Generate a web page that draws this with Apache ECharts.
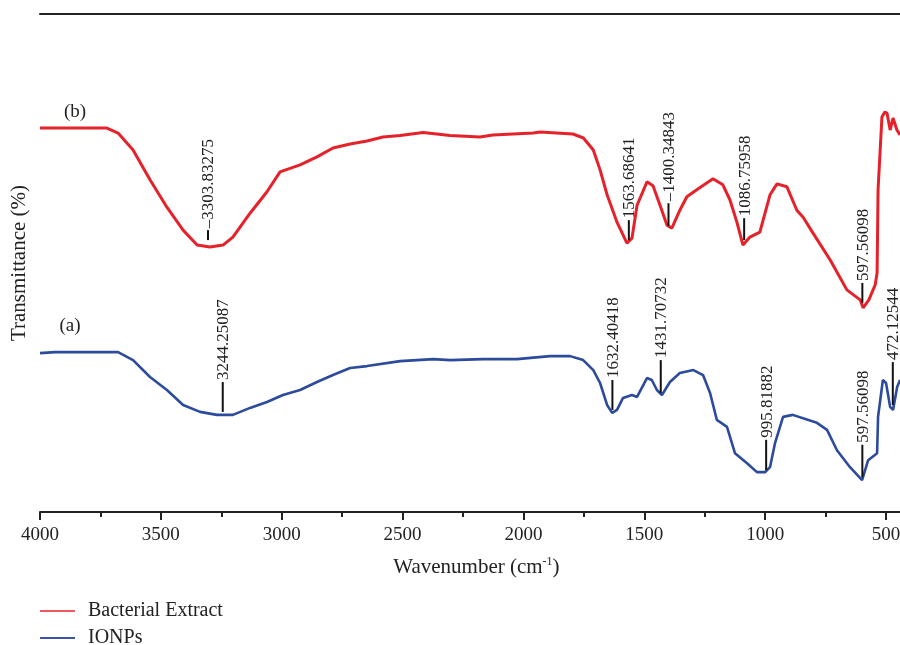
<!DOCTYPE html>
<html>
<head>
<meta charset="utf-8">
<script src="https://cdn.jsdelivr.net/npm/echarts@6/dist/echarts.min.js"></script>
<style>
html,body{margin:0;padding:0;background:#fff;}
#chart{width:900px;height:645px;}
</style>
</head>
<body>
<div id="chart"></div>
<script>
// Wavenumber (cm-1) and transmittance (arbitrary offset units)
const bactWn = [4000,3723,3677,3615,3545,3475,3408,3350,3297,3243,3202,3131,3061,3007,2924,2854,2788,2717,2647,2581,2510,2415,2303,2180,2126,1960,1931,1795,1752,1711,1683,1654,1613,1572,1551,1530,1489,1464,1435,1406,1386,1353,1324,1283,1216,1175,1146,1117,1092,1063,1022,980,951,910,869,843,802,731,662,607,595,571,545,537,533,517,505,496,483,471,455,442];
const bactT  = [77.1,77.1,76.1,72.7,66.7,61.2,56.6,53.6,53.2,53.6,55.2,60.0,64.3,68.3,69.7,71.3,73.1,73.9,74.5,75.3,75.6,76.2,75.6,75.3,75.7,76.1,76.3,75.9,75.1,72.7,68.7,63.7,58.2,54.0,55.0,61.6,66.3,65.5,61.6,57.6,57.0,60.6,63.3,64.7,66.9,65.7,62.7,58.2,53.6,55.2,56.2,63.7,65.9,65.3,60.6,59.2,56.0,50.6,44.6,42.6,41.0,42.6,45.6,48.0,64.7,79.3,80.3,80.1,76.7,79.1,76.7,75.7];

const ionWn = [4000,3938,3677,3615,3545,3475,3408,3338,3268,3202,3131,3061,2995,2924,2854,2788,2717,2647,2510,2373,2303,2167,2027,1890,1807,1753,1711,1683,1654,1633,1613,1588,1551,1530,1489,1469,1448,1427,1394,1353,1297,1257,1228,1200,1158,1125,1075,1034,1000,980,959,926,886,786,744,703,649,599,574,537,533,513,500,483,471,454,442];
const ionT  = [31.9,32.1,32.1,30.5,27.1,24.5,21.5,20.1,19.5,19.5,20.9,22.1,23.5,24.5,26.1,27.5,28.9,29.3,30.3,30.7,30.5,30.7,30.7,31.3,31.3,30.5,28.5,25.9,21.5,19.9,20.5,22.9,23.5,23.1,26.9,26.5,24.5,23.5,26.1,27.9,28.5,27.5,23.9,18.5,17.1,11.8,9.8,8.0,8.0,9.0,13.9,19.1,19.5,17.9,16.5,12.4,9.0,6.4,10.4,11.8,19.1,26.5,25.9,21.1,20.5,25.1,26.5];

// Peak annotations: position, tick top, tick bottom, label
const peakWn     = [3305, 1564, 1400, 1087, 598, 3244, 1632, 1432, 996, 598, 472];
const peakTop    = [56.6, 58.6, 62.0, 59.0, 46.0, 26.1, 26.5, 30.5, 14.5, 13.5, 30.1];
const peakBottom = [54.6, 54.6, 57.4, 54.6, 42.0, 20.1, 20.5, 23.9, 8.4, 7.0, 21.5];
const peakLabels = ['\u20133303.83275','1563.68641','\u20131400.34843','1086.75958','597.56098',
                    '3244.25087','1632.40418','1431.70732','995.81882','597.56098','472.12544'];

// Curve tags
const tagWn = [3855, 3876];
const tagT = [80.3, 37.3];
const tagText = ['(b)', '(a)'];

const xTicks = [4000,3500,3000,2500,2000,1500,1000,500];

const seriesNames = ['Bacterial Extract', 'IONPs'];
const legendColors = ['#ee5a5f', '#3b55a6'];
const FONT = 'Liberation Serif';

const chart = echarts.init(document.getElementById('chart'), null, {renderer:'canvas'});

const peakData = peakWn.map((w,i)=>[w, peakTop[i], peakBottom[i], i]);
const tagData = tagWn.map((w,i)=>[w, tagT[i], i]);

function makeLegend(i, top){
  return {
    left: 40, top: top, padding: 0,
    itemWidth: 35, itemHeight: 2, icon: 'rect',
    textStyle: {fontFamily: FONT, fontSize: 20, color: '#222', padding:[0,0,0,8], lineHeight: 20},
    data: [{name: seriesNames[i], itemStyle: {color: legendColors[i]}}]
  };
}

const option = {
  animation: false,
  backgroundColor: '#fff',
  grid: {left: 40, top: 14, right: -106.9, bottom: 133, containLabel: false, outerBoundsMode: 'none'},
  legend: [makeLegend(0, 601), makeLegend(1, 628)],
  xAxis: [{
    type: 'value', inverse: true, min: 0, max: 4000, interval: 500,
    name: 'Wavenumber (cm{sup|-1})',
    nameLocation: 'middle', nameGap: 44,
    nameTextStyle: {fontFamily: FONT, fontSize: 21, color: '#222', lineHeight: 22, padding: [0, 94, 0, 0],
      rich: {sup: {fontFamily: FONT, fontSize: 12, color: '#222', verticalAlign: 'top', lineHeight: 14}}},
    axisLine: {show: true, lineStyle: {color: '#222', width: 2}},
    axisTick: {show: true, length: 8, lineStyle: {color: '#222', width: 2}},
    minorTick: {show: true, splitNumber: 2, length: 5, lineStyle: {color: '#222', width: 2}},
    splitLine: {show: false},
    axisLabel: {fontFamily: FONT, fontSize: 19, color: '#222', margin: 14,
      formatter: v => xTicks.indexOf(v) >= 0 ? String(v) : ''}
  }, {
    type: 'value', inverse: true, min: 0, max: 4000, position: 'top',
    axisLine: {show: true, onZero: false, lineStyle: {color: '#222', width: 2}},
    axisTick: {show: false}, axisLabel: {show: false}, splitLine: {show: false}
  }],
  yAxis: {
    type: 'value', min: 0, max: 100,
    name: 'Transmittance (%)', nameLocation: 'middle', nameGap: 10,
    nameTextStyle: {fontFamily: FONT, fontSize: 21, color: '#222'},
    axisLine: {show: true, lineStyle: {color: '#222', width: 2}},
    axisTick: {show: false}, axisLabel: {show: false}, splitLine: {show: false}
  },
  series: [
    {
      name: seriesNames[0], type: 'line', showSymbol: false, symbol: 'none',
      data: bactWn.map((w,i)=>[w, bactT[i]]),
      lineStyle: {color: '#e5222a', width: 3}, itemStyle: {color: '#e5222a'}, z: 3
    },
    {
      name: seriesNames[1], type: 'line', showSymbol: false, symbol: 'none',
      data: ionWn.map((w,i)=>[w, ionT[i]]),
      lineStyle: {color: '#2c4b9c', width: 2.6}, itemStyle: {color: '#2c4b9c'}, z: 3
    },
    {
      type: 'custom', name: 'peaks', data: peakData, z: 5, silent: true,
      renderItem: function(params, api){
        const p1 = api.coord([api.value(0), api.value(1)]);
        const p2 = api.coord([api.value(0), api.value(2)]);
        const idx = api.value(3);
        return {type: 'group', children: [
          {type: 'line', shape: {x1: p1[0], y1: p1[1], x2: p2[0], y2: p2[1]},
           style: {stroke: '#111', lineWidth: 2}},
          {type: 'text', x: p1[0] + 1, y: p1[1] - 2, rotation: Math.PI/2,
           style: {text: peakLabels[idx], fontFamily: FONT, fontSize: 17, fill: '#222',
                   align: 'left', verticalAlign: 'middle'}}
        ]};
      }
    },
    {
      type: 'custom', name: 'tags', data: tagData, z: 5, silent: true,
      renderItem: function(params, api){
        const p = api.coord([api.value(0), api.value(1)]);
        return {type: 'text', x: p[0], y: p[1],
          style: {text: tagText[api.value(2)], fontFamily: FONT, fontSize: 19, fill: '#222',
                  align: 'center', verticalAlign: 'middle'}};
      }
    }
  ]
};
chart.setOption(option);
</script>
</body>
</html>
